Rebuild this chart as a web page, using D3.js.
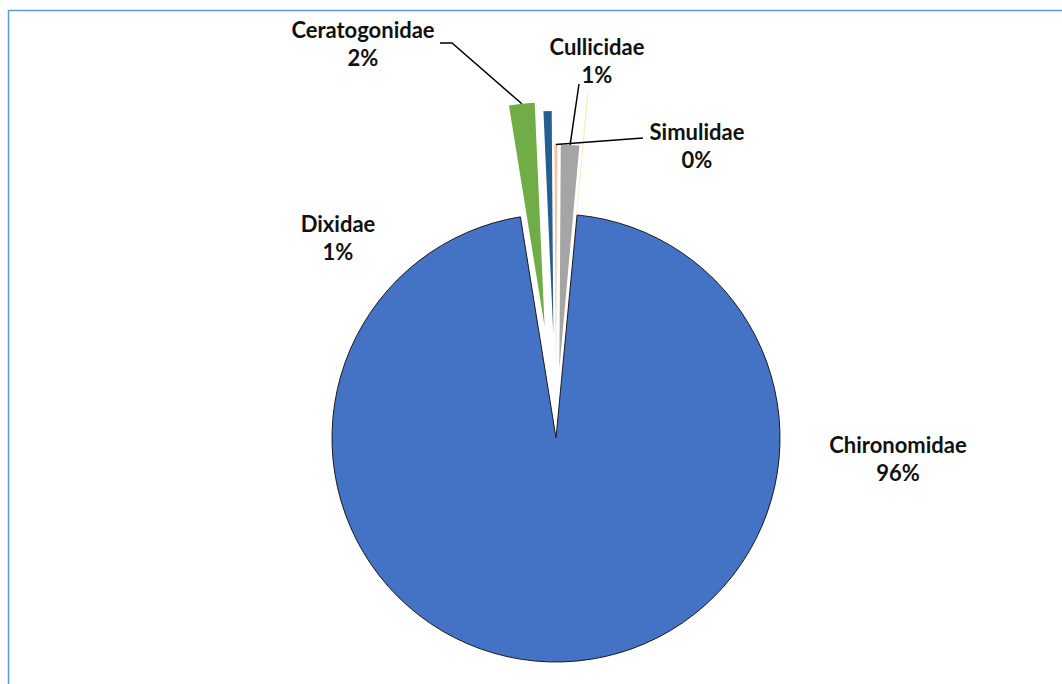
<!DOCTYPE html>
<html>
<head>
<meta charset="utf-8">
<script src="https://cdn.jsdelivr.net/npm/d3@7"></script>
<style>
  html, body { margin: 0; padding: 0; background: #fff; }
  svg { display: block; }
  .lbl { font-family: Lato, "Open Sans", sans-serif; font-weight: 700; font-size: 22px; fill: #111; }
</style>
</head>
<body>
<svg id="chart" width="1062" height="684"></svg>
<script>
// Family counts (Diptera larvae)
const categories = ["Chironomidae", "Ceratogonidae", "Dixidae", "Simulidae", "Cullicidae", "Other"];
const counts = [1306, 25, 8, 3, 18, 1];
const showLabel = [true, true, true, true, true, false];

// Slice fills, fill opacity and how far each slice is pulled out (fraction of radius)
const sliceColors = ["#4472C4", "#70AD47", "#255E91", "#ED7D31", "#A5A5A5", "#FFC000"];
const sliceOpacity = [1, 1, 1, 0.45, 1, 0.4];
const explode = [0, 0.5, 0.46, 0.31, 0.31, 0.54];

// Label placement: centre x, first-line baseline y, optional leader start
const labelLayout = {
  Chironomidae:  { x: 898, y: 453 },
  Ceratogonidae: { x: 363, y: 38, leader: [[440, 43], [452, 43]] },
  Dixidae:       { x: 338, y: 232 },
  Simulidae:     { x: 697, y: 140, leader: [[643, 138]] },
  Cullicidae:    { x: 597, y: 55,  leader: [[579, 84]] }
};

const svg = d3.select("#chart");
const W = 1062, H = 684;
const cx = 556, cy = 438, R = 224;
const deg = Math.PI / 180;
const start = 5.4 * deg;

// Chart frame
svg.append("rect")
  .attr("x", 8.5).attr("y", 10.5)
  .attr("width", W + 20).attr("height", H + 20)
  .attr("fill", "none")
  .attr("stroke", "#5B9BD5")
  .attr("stroke-width", 1.5);

const total = d3.sum(counts);
const pct = d3.format(".0%");

const pie = d3.pie().sort(null).value(d => d.value)
  .startAngle(start).endAngle(start + 2 * Math.PI);
const arc = d3.arc().innerRadius(0).outerRadius(R);

const rows = categories.map((c, i) => ({ name: c, value: counts[i], i }));
const arcs = pie(rows);

arcs.forEach(a => {
  const mid = (a.startAngle + a.endAngle) / 2;
  const d = explode[a.data.i] * R;
  a.ox = cx + Math.sin(mid) * d;
  a.oy = cy - Math.cos(mid) * d;
  a.mid = mid;
});

const g = svg.append("g");
// Draw small slices first, the large one last so its outline sits on top
g.selectAll("path.slice")
  .data(arcs.slice().reverse())
  .join("path")
  .attr("class", "slice")
  .attr("transform", a => `translate(${a.ox},${a.oy})`)
  .attr("d", arc)
  .attr("fill", a => sliceColors[a.data.i])
  .attr("fill-opacity", a => sliceOpacity[a.data.i])
  .attr("stroke", a => a.data.i === 0 ? "#1a1a1a" : "none")
  .attr("stroke-width", a => a.data.i === 0 ? 1 : 0)
  .attr("stroke-linejoin", "miter");

// Leader lines end on the outer edge of their slice
const line = d3.line();
arcs.forEach(a => {
  const lay = labelLayout[a.data.name];
  if (!lay || !lay.leader) return;
  const end = [a.ox + Math.sin(a.mid) * R, a.oy - Math.cos(a.mid) * R];
  svg.append("path")
    .attr("d", line(lay.leader.concat([end])))
    .attr("fill", "none")
    .attr("stroke", "#000")
    .attr("stroke-width", 1.5);
});

// Data labels: category name and share of total
arcs.forEach(a => {
  if (!showLabel[a.data.i]) return;
  const lay = labelLayout[a.data.name];
  const t = svg.append("text").attr("class", "lbl").attr("text-anchor", "middle");
  t.append("tspan").attr("x", lay.x).attr("y", lay.y).text(a.data.name);
  t.append("tspan").attr("x", lay.x).attr("y", lay.y + 28).text(pct(a.data.value / total));
});
</script>
</body>
</html>
